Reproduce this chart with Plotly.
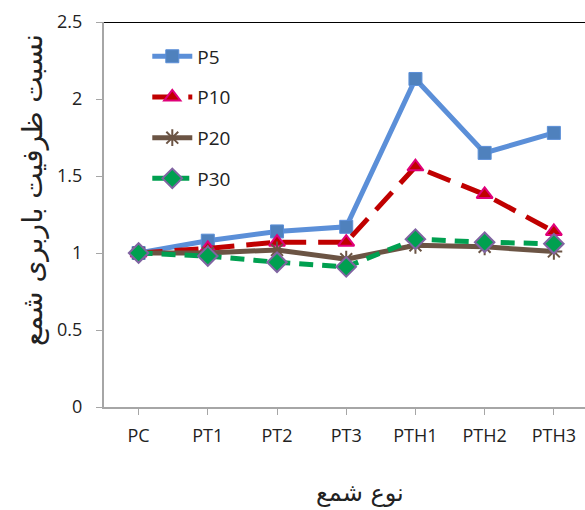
import plotly.graph_objects as go

categories = ["PC", "PT1", "PT2", "PT3", "PTH1", "PTH2", "PTH3"]
p5 = [1.0, 1.08, 1.14, 1.17, 2.13, 1.65, 1.78]
p10 = [1.0, 1.03, 1.07, 1.07, 1.56, 1.38, 1.14]
p20 = [1.0, 1.0, 1.02, 0.96, 1.05, 1.04, 1.01]
p30 = [1.0, 0.98, 0.94, 0.91, 1.09, 1.07, 1.06]
y_ticks = [0, 0.5, 1, 1.5, 2, 2.5]
y_tick_text = ["0", "0.5", "1", "1.5", "2", "2.5"]
x_title = "نوع شمع"
y_title = "نسبت ظرفیت باربری شمع"

font_main = "Open Sans, Liberation Sans, sans-serif"
font_fa = "DejaVu Sans, Noto Sans"

fig = go.Figure()
fig.add_trace(go.Scatter(
    x=categories, y=p5, name="P5", mode="lines+markers", legendgroup="a",
    line=dict(color="#5B8FD8", width=5),
    marker=dict(symbol="square", size=13, color="#4F81BD", line=dict(color="#5B8FD8", width=1))))
fig.add_trace(go.Scatter(
    x=categories, y=p10, name="P10", mode="lines+markers", legendgroup="b",
    line=dict(color="#C00000", width=5, dash="24px,12px"),
    marker=dict(symbol="triangle-up", size=14, color="#C00000", line=dict(color="#E0007A", width=2))))
fig.add_trace(go.Scatter(
    x=categories, y=p20, name="P20", mode="lines+markers", legendgroup="c",
    line=dict(color="#6B5444", width=5),
    marker=dict(symbol="asterisk-open", size=14, color="#6B5444", line=dict(color="#6B5444", width=2))))
fig.add_trace(go.Scatter(
    x=categories, y=p30, name="P30", mode="lines+markers", legendgroup="d",
    line=dict(color="#00A050", width=5, dash="14px,9px"),
    marker=dict(symbol="diamond", size=15, color="#00A050", line=dict(color="#8064A2", width=2))))

fig.add_shape(type="line", xref="paper", yref="y", x0=0, x1=1, y0=2.5, y1=2.5,
              line=dict(color="black", width=2))

# axis titles placed as annotations (pixel offsets relative to plot area)
fig.add_annotation(text=x_title, xref="paper", yref="paper", x=(360 - 104) / 481, y=0,
                   yshift=-(493 - 407), showarrow=False, xanchor="center", yanchor="middle",
                   font=dict(size=24, family=font_fa, color="#222222"))
fig.add_annotation(text=y_title, xref="paper", yref="paper", x=0, y=(407 - 190) / 385,
                   xshift=-(104 - 32), showarrow=False, textangle=-90,
                   xanchor="center", yanchor="middle",
                   font=dict(size=28, family=font_fa, color="#222222"))

fig.update_layout(
    width=585, height=510,
    margin=dict(l=104, r=0, t=22, b=103),
    paper_bgcolor="white", plot_bgcolor="white",
    font=dict(family=font_main, size=18, color="#222222"),
    showlegend=True,
    legend=dict(x=0.09, y=0.96, xanchor="left", yanchor="top",
                bgcolor="rgba(0,0,0,0)", font=dict(size=19, color="#222222"),
                tracegroupgap=13, itemwidth=40),
    xaxis=dict(type="category", range=[-0.5, 6.45], showline=True, linecolor="#A6A6A6",
               linewidth=2, ticks="outside", tickcolor="#A6A6A6", ticklen=6,
               showgrid=False, zeroline=False, tickfont=dict(size=18),
               automargin=False, ticklabelstandoff=5),
    yaxis=dict(range=[0, 2.5], tickvals=y_ticks, ticktext=y_tick_text, showline=True,
               linecolor="#A6A6A6", linewidth=2, ticks="outside", tickcolor="#A6A6A6",
               ticklen=6, showgrid=False, zeroline=False, tickfont=dict(size=18),
               automargin=False, ticklabelstandoff=10),
)

fig.write_html("out.html", config={"displayModeBar": False},
               post_script="document.body.style.margin='0';document.body.style.overflow='hidden';")
